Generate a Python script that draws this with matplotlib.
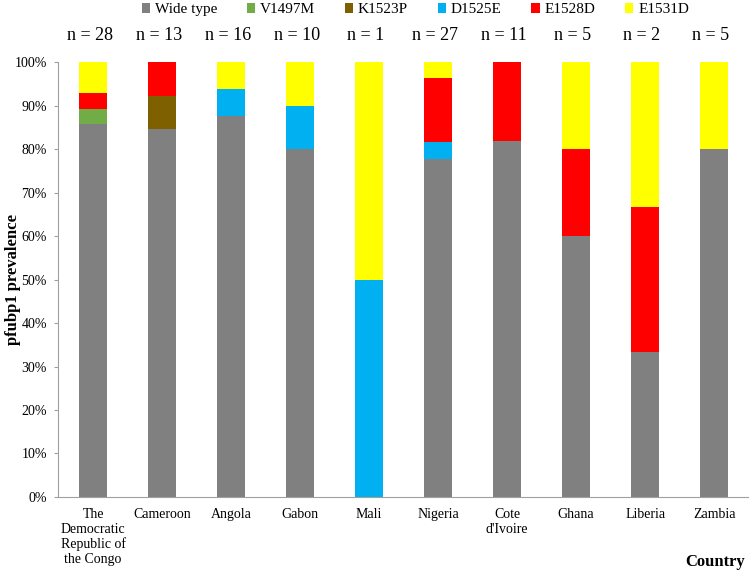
import numpy as np
import matplotlib
matplotlib.use("Agg")
import matplotlib.pyplot as plt
from matplotlib.ticker import PercentFormatter

plt.rcParams["font.family"] = ["Liberation Serif", "DejaVu Serif"]

countries = ["The\nDemocratic\nRepublic of\nthe Congo", "Cameroon", "Angola", "Gabon", "Mali",
             "Nigeria", "Cote\nd'Ivoire", "Ghana", "Liberia", "Zambia"]
n_samples = [28, 13, 16, 10, 1, 27, 11, 5, 2, 5]

# prevalence (%) per genotype
wild_type = [85.7, 84.6, 87.5, 80.0, 0.0, 77.8, 81.8, 60.0, 33.3, 80.0]
v1497m = [3.6, 0, 0, 0, 0, 0, 0, 0, 0, 0]
k1523p = [0, 7.7, 0, 0, 0, 0, 0, 0, 0, 0]
d1525e = [0, 0, 6.25, 10.0, 50.0, 3.7, 0, 0, 0, 0]
e1528d = [3.6, 7.7, 0, 0, 0, 14.8, 18.2, 20.0, 33.4, 0]
e1531d = [7.1, 0, 6.25, 10.0, 50.0, 3.7, 0, 20.0, 33.3, 20.0]

series = [
    ("Wide type", wild_type, "#808080"),
    ("V1497M", v1497m, "#70AD47"),
    ("K1523P", k1523p, "#7F6000"),
    ("D1525E", d1525e, "#00B0F0"),
    ("E1528D", e1528d, "#FF0000"),
    ("E1531D", e1531d, "#FFFF00"),
]

fig = plt.figure(figsize=(7.5, 5.71), dpi=100)
ax = fig.add_axes([0.0773, 0.1296, 0.92, 0.7618])

x = np.arange(len(countries))
bottom = np.zeros(len(countries))
for name, vals, color in series:
    vals = np.asarray(vals, float)
    ax.bar(x, vals, 0.405, bottom=bottom, color=color, label=name, zorder=2)
    bottom += vals

ax.set_xlim(-0.51, 9.49)
ax.set_ylim(0, 100)
ax.set_yticks(np.arange(0, 101, 10))
ax.yaxis.set_major_formatter(PercentFormatter(decimals=0))
ax.set_xticks(x)
ax.set_xticklabels(countries, fontsize=10, linespacing=1.15)
ax.tick_params(axis="x", length=0, pad=8)
ax.tick_params(axis="y", labelsize=10, length=3, pad=5, color="#a0a0a0", direction="out")
for s in ["top", "right"]:
    ax.spines[s].set_visible(False)
ax.spines["left"].set_color("#a0a0a0")
ax.spines["bottom"].set_color("#a0a0a0")

for xi, n in zip(x, n_samples):
    ax.text(xi - 0.05, 106, f"n = {n}", ha="center", va="center", fontsize=13, clip_on=False)

fig.text(0.018, 0.51, "pfubp1 prevalence", rotation=90, ha="center", va="center",
         fontsize=12, fontweight="bold")
fig.text(0.953, 0.016, "Country", ha="center", va="center", fontsize=12, fontweight="bold")

ax.legend(loc="center", bbox_to_anchor=(0.518, 1.12), ncol=6, frameon=False, fontsize=11,
          handlelength=0.55, handleheight=0.55, handletextpad=0.3, columnspacing=1.95)

fig.savefig("out.png", dpi=100)
